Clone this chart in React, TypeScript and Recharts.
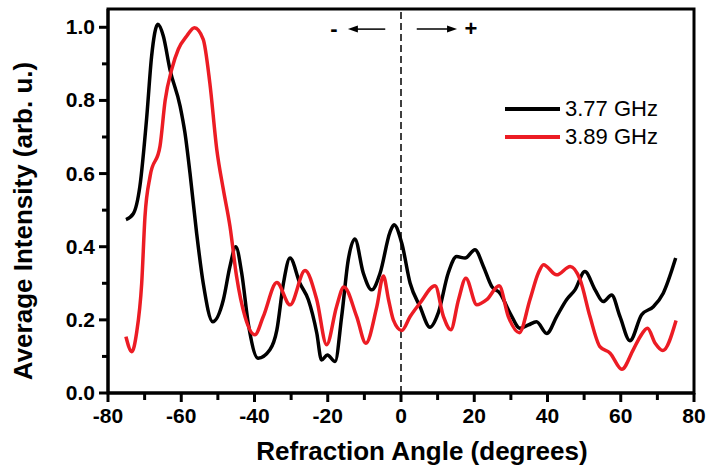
import { LineChart, Line, XAxis, YAxis, ReferenceLine, ReferenceArea, Label } from 'recharts'

// [angle (deg), average intensity (arb. u.)]
const trace377: [number, number][] = [
    [-75.1, 0.474], [-73.1, 0.49], [-71.3, 0.565], [-69.4, 0.757], [-68.1, 0.92], [-66.4, 1.008],
    [-64.9, 0.976], [-63.1, 0.885], [-60.3, 0.784], [-59.0, 0.712], [-57.6, 0.6], [-55.8, 0.437],
    [-54.0, 0.3], [-51.4, 0.195], [-48.5, 0.255], [-46.7, 0.346], [-45.1, 0.4], [-43.5, 0.328],
    [-41.7, 0.19], [-39.0, 0.095], [-35.8, 0.118], [-33.9, 0.172], [-32.1, 0.3], [-30.3, 0.369],
    [-27.6, 0.3], [-25.3, 0.255], [-23.0, 0.164], [-21.7, 0.09], [-20.1, 0.104], [-18.0, 0.086],
    [-16.2, 0.209], [-14.4, 0.364], [-12.6, 0.421], [-10.3, 0.328], [-8.0, 0.282], [-5.7, 0.328],
    [-3.0, 0.44], [-1.9, 0.46], [0.2, 0.41], [2.5, 0.3], [5.2, 0.236], [7.9, 0.18], [10.2, 0.22],
    [12.9, 0.328], [15.2, 0.373], [17.5, 0.369], [20.2, 0.392], [22.5, 0.346], [24.8, 0.291],
    [27.0, 0.273], [29.8, 0.218], [32.5, 0.177], [34.8, 0.186], [37.0, 0.195], [39.8, 0.163],
    [42.5, 0.209], [45.2, 0.255], [47.5, 0.282], [50.2, 0.332], [53.0, 0.282], [55.2, 0.25],
    [57.5, 0.268], [59.8, 0.209], [62.5, 0.143], [65.7, 0.214], [68.9, 0.236], [71.6, 0.273],
    [75.0, 0.369],
]

const trace389: [number, number][] = [
    [-75.1, 0.154], [-73.5, 0.113], [-72.2, 0.164], [-70.8, 0.3], [-69.9, 0.483], [-68.5, 0.593],
    [-65.8, 0.675], [-64.4, 0.8], [-62.6, 0.885], [-60.8, 0.94], [-58.5, 0.976], [-56.4, 0.999],
    [-54.0, 0.967], [-52.2, 0.848], [-50.3, 0.666], [-48.5, 0.556], [-46.7, 0.456], [-44.9, 0.319],
    [-42.6, 0.209], [-39.9, 0.159], [-37.6, 0.209], [-33.9, 0.302], [-30.3, 0.241], [-26.2, 0.335],
    [-23.0, 0.255], [-20.3, 0.132], [-17.6, 0.236], [-15.6, 0.29], [-12.1, 0.209], [-9.6, 0.136],
    [-6.6, 0.236], [-4.8, 0.32], [-3.4, 0.255], [-2.1, 0.2], [0.2, 0.171], [2.5, 0.209],
    [5.2, 0.246], [9.3, 0.293], [11.6, 0.209], [13.6, 0.173], [15.7, 0.255], [17.7, 0.314],
    [20.7, 0.241], [23.4, 0.255], [26.8, 0.293], [29.3, 0.209], [32.3, 0.165], [35.2, 0.255],
    [37.5, 0.328], [38.9, 0.351], [42.5, 0.323], [46.2, 0.346], [48.9, 0.31], [51.6, 0.209],
    [54.3, 0.127], [57.1, 0.109], [60.3, 0.065], [63.4, 0.118], [65.3, 0.154], [67.3, 0.177],
    [69.4, 0.136], [71.5, 0.116], [75.1, 0.198],
]

const xTicks = [-80, -70, -60, -50, -40, -30, -20, -10, 0, 10, 20, 30, 40, 50, 60, 70, 80]
const yTicks = [0, 0.1, 0.2, 0.3, 0.4, 0.5, 0.6, 0.7, 0.8, 0.9, 1.0]
const legendNames = ['3.77 GHz', '3.89 GHz']

const seriesA = trace377.map(([a, v]) => ({ angle: a, value: v }))
const seriesB = trace389.map(([a, v]) => ({ angle: a, value: v }))

const FONT = '"Liberation Sans", Arial, sans-serif'
const RED = '#ec1c24'

function XTick({ x, y, payload }: any) {
    const major = Math.abs(payload.value) % 20 === 0
    return (
        <g>
            <line x1={x} x2={x} y1={y} y2={y + (major ? 9 : 7)} stroke="#000" strokeWidth={3} />
            {major && (
                <text x={x} y={y + 30} textAnchor="middle" fontFamily={FONT} fontWeight="bold" fontSize={21} fill="#000">
                    {payload.value}
                </text>
            )}
        </g>
    )
}

function YTick({ x, y, payload }: any) {
    const major = Math.round(payload.value * 10) % 2 === 0
    return (
        <g>
            <line x1={x} x2={x - (major ? 9 : 6)} y1={y} y2={y} stroke="#000" strokeWidth={3} />
            {major && (
                <text x={x - 13} y={y + 7} textAnchor="end" fontFamily={FONT} fontWeight="bold" fontSize={21} fill="#000">
                    {payload.value.toFixed(1)}
                </text>
            )}
        </g>
    )
}

function Arrow({ x1, y1, x2, y2, sign }: any) {
    const dir = x2 > x1 ? 1 : -1
    return (
        <g>
            <line x1={x1} y1={y1} x2={x2 - dir * 8} y2={y2} stroke="#000" strokeWidth={1.5} />
            <polygon points={`${x2},${y2} ${x2 - dir * 10},${y2 - 3.5} ${x2 - dir * 10},${y2 + 3.5}`} fill="#000" />
            <text x={x2 + dir * 14} y={y2 + 7} textAnchor="middle" fontFamily={FONT} fontWeight="bold" fontSize={22} fill="#000">
                {sign}
            </text>
        </g>
    )
}

function LegendBox() {
    const colors = ['#000', RED]
    return (
        <div style={{ position: 'absolute', left: 505, top: 95, fontFamily: FONT, fontSize: 22, color: '#000' }}>
            {legendNames.map((name, i) => (
                <div key={name} style={{ display: 'flex', alignItems: 'center', height: 28 }}>
                    <span style={{ display: 'inline-block', width: 55, height: 4, background: colors[i], marginRight: 5 }} />
                    <span>{name}</span>
                </div>
            ))}
        </div>
    )
}

export default function App() {
    return (
        <div style={{ position: 'absolute', left: 0, top: 0, width: 707, height: 468, background: '#fff' }}>
            <LineChart width={707} height={468} margin={{ top: 9, right: 13, bottom: 0, left: 0 }}>
                <XAxis
                    dataKey="angle"
                    type="number"
                    domain={[-80, 80]}
                    ticks={xTicks}
                    interval={0}
                    height={75}
                    tickSize={0}
                    tickMargin={0}
                    tickLine={false}
                    tick={<XTick />}
                    axisLine={{ stroke: '#000', strokeWidth: 3 }}
                    allowDuplicatedCategory={false}
                >
                    <Label
                        content={() => (
                            <text x={422} y={460} textAnchor="middle" fontFamily={FONT} fontWeight="bold" fontSize={26} fill="#000">
                                Refraction Angle (degrees)
                            </text>
                        )}
                    />
                </XAxis>
                <YAxis
                    type="number"
                    domain={[0, 1.05]}
                    ticks={yTicks}
                    interval={0}
                    width={108}
                    tickSize={0}
                    tickMargin={0}
                    tickLine={false}
                    tick={<YTick />}
                    axisLine={{ stroke: '#000', strokeWidth: 3 }}
                >
                    <Label
                        content={() => (
                            <text
                                x={23}
                                y={221}
                                transform="rotate(-90, 23, 221)"
                                textAnchor="middle"
                                dominantBaseline="central"
                                fontFamily={FONT}
                                fontWeight="bold"
                                fontSize={26}
                                fill="#000"
                            >
                                Average Intensity (arb. u.)
                            </text>
                        )}
                    />
                </YAxis>
                <ReferenceArea x1={-80} x2={80} y1={0} y2={1.05} fill="none" stroke="#000" strokeWidth={3} />
                <ReferenceLine x={0} stroke="#000" strokeWidth={1.5} strokeDasharray="7 4" />
                <ReferenceLine
                    segment={[{ x: -4.3, y: 0.995 }, { x: -14.5, y: 0.995 }]}
                    shape={(p: any) => <Arrow {...p} sign="-" />}
                />
                <ReferenceLine
                    segment={[{ x: 4.3, y: 0.995 }, { x: 15.3, y: 0.995 }]}
                    shape={(p: any) => <Arrow {...p} sign="+" />}
                />
                <Line
                    data={seriesA}
                    dataKey="value"
                    name="3.77 GHz"
                    type="monotone"
                    stroke="#000"
                    strokeWidth={3.5}
                    dot={false}
                    isAnimationActive={false}
                />
                <Line
                    data={seriesB}
                    dataKey="value"
                    name="3.89 GHz"
                    type="monotone"
                    stroke={RED}
                    strokeWidth={3.5}
                    dot={false}
                    isAnimationActive={false}
                />
            </LineChart>
            <LegendBox />
        </div>
    )
}
